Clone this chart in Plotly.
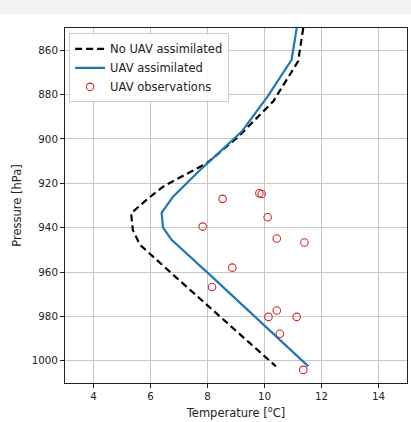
import plotly.graph_objects as go

# Model profiles (pressure in hPa, temperature in deg C)
p_no_uav = [850, 865, 883, 899, 911, 921, 927, 933.5, 941, 947.7, 963, 1002.5]
t_no_uav = [11.36, 11.18, 10.31, 9.08, 7.97, 6.5, 5.9, 5.32, 5.38, 5.63, 6.95, 10.4]

p_uav = [850, 864.3, 881, 896.7, 907.2, 914, 926, 933.3, 940, 945.5, 960.5, 1002.5]
t_uav = [11.13, 10.95, 10.1, 9.2, 8.32, 7.74, 6.79, 6.39, 6.44, 6.74, 8.02, 11.54]

# UAV observations
p_obs = [927.0, 924.5, 924.8, 939.5, 935.3, 944.9, 946.7, 958.0, 966.7, 977.3, 980.2, 980.2, 987.8, 1004.1]
t_obs = [8.53, 9.82, 9.90, 7.83, 10.11, 10.43, 11.40, 8.87, 8.16, 10.43, 10.14, 11.13, 10.54, 11.36]

x_ticks = [4, 6, 8, 10, 12, 14]
y_ticks = [860, 880, 900, 920, 940, 960, 980, 1000]

FONT = "DejaVu Sans"

fig = go.Figure()
fig.add_trace(go.Scatter(x=t_no_uav, y=p_no_uav, mode="lines", name="No UAV assimilated",
                         line=dict(color="black", width=2.2, dash="7px,4px")))
fig.add_trace(go.Scatter(x=t_uav, y=p_uav, mode="lines", name="UAV assimilated",
                         line=dict(color="#1f77b4", width=2.2)))
fig.add_trace(go.Scatter(x=t_obs, y=p_obs, mode="markers", name="UAV observations",
                         marker=dict(symbol="circle-open", size=7.5, color="#d62728",
                                     line=dict(width=1.1, color="#d62728"))))

axis_common = dict(showline=True, mirror=True, linecolor="#222", linewidth=1,
                   showgrid=True, gridcolor="#c8c8c8", gridwidth=1,
                   ticks="outside", ticklen=4, tickcolor="#222", tickwidth=1,
                   zeroline=False, tickfont=dict(family=FONT, size=10.3, color="#222"))

fig.update_layout(
    width=411, height=422,
    margin=dict(l=65, r=4, t=28, b=39),
    paper_bgcolor="white", plot_bgcolor="white",
    font=dict(family=FONT, size=11, color="#222"),
    showlegend=True,
    legend=dict(x=0.012, y=0.985, xanchor="left", yanchor="top",
                bgcolor="rgba(255,255,255,0.9)", bordercolor="#cccccc", borderwidth=1,
                font=dict(family=FONT, size=11.5, color="#222"),
                tracegroupgap=0, itemwidth=30),
    xaxis=dict(range=[3, 15], tickvals=x_ticks,
               title=dict(text="Temperature [<sup>o</sup>C]", standoff=7,
                          font=dict(family=FONT, size=11.5, color="#222")),
               **axis_common),
    yaxis=dict(range=[1010, 850], tickvals=y_ticks,
               title=dict(text="Pressure [hPa]", standoff=7,
                          font=dict(family=FONT, size=11.5, color="#222")),
               **axis_common),
    shapes=[dict(type="rect", xref="paper", yref="paper", x0=-0.3, x1=1.1,
                 y0=1 + 14 / 355, y1=1 + 30 / 355, fillcolor="#f1f2f4",
                 line=dict(width=0), layer="above")],
)

fig.write_html("out.html", config={"displayModeBar": False},
               post_script="document.body.style.margin='0';document.body.style.overflow='hidden';")
